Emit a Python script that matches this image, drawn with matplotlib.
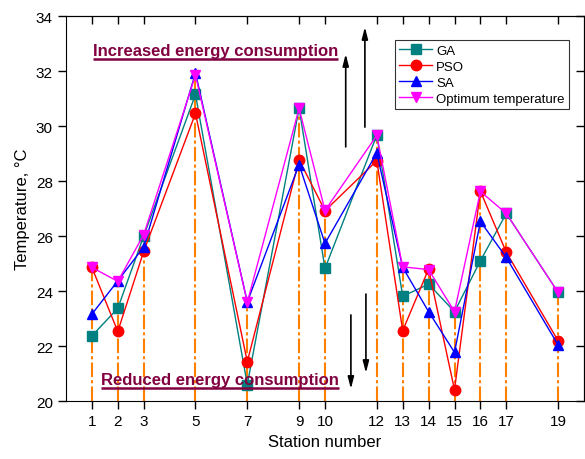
import numpy as np
import matplotlib.pyplot as plt

plt.rcParams['font.family'] = ['Liberation Sans', 'DejaVu Sans']

station = [1, 2, 3, 5, 7, 9, 10, 12, 13, 14, 15, 16, 17, 19]
ga  = [22.37, 23.37, 26.0, 31.15, 20.6, 30.65, 24.82, 29.67, 23.81, 24.25, 23.25, 25.1, 26.82, 23.95]
pso = [24.86, 22.53, 25.44, 30.46, 21.43, 28.77, 26.92, 28.74, 22.56, 24.8, 20.41, 27.63, 25.41, 22.19]
sa  = [23.16, 24.37, 25.6, 31.93, 23.6, 28.6, 25.73, 29.02, 24.86, 23.25, 21.77, 26.53, 25.22, 22.04]
opt = [24.86, 24.35, 26.05, 31.85, 23.59, 30.64, 26.93, 29.66, 24.88, 24.78, 23.25, 27.62, 26.82, 23.95]

# arrows: (x, y_from, y_to)
up_arrows = [(10.8, 29.24, 32.62), (11.54, 29.96, 33.6)]
down_arrows = [(11.0, 23.13, 20.44), (11.58, 23.89, 21.02)]

fig = plt.figure(figsize=(5.85, 4.6), dpi=100)
ax = fig.add_axes([0.1128, 0.126, 0.8855, 0.837])

# drop lines from the bottom to the optimum temperature
ax.vlines(station, 20, opt, colors='#FF8000', linestyles=(0, (7, 1.5, 1.5, 1.5)), lw=1.5, zorder=1)

ax.plot(station, ga, '-s', color='#008080', ms=6.5, lw=1, label='GA', zorder=2)
ax.plot(station, pso, '-o', color='#FF0000', ms=7.5, lw=1, label='PSO', zorder=3)
ax.plot(station, sa, '-^', color='#0000FF', ms=7.5, lw=1, label='SA', zorder=4)
ax.plot(station, opt, '-v', color='#FF00FF', ms=7.5, lw=1, label='Optimum temperature', zorder=5)

for x, y0, y1 in up_arrows + down_arrows:
    ax.annotate('', xy=(x, y1), xytext=(x, y0),
                arrowprops=dict(arrowstyle='-|>,head_length=0.7,head_width=0.18',
                                color='k', lw=1.2, shrinkA=0, shrinkB=0))

t1 = ax.text(5.77, 32.73, 'Increased energy consumption', color='#800040',
             fontsize=12, fontweight='bold', ha='center', va='center')
t2 = ax.text(5.96, 20.8, 'Reduced energy consumption', color='#800040',
             fontsize=12, fontweight='bold', ha='center', va='center')

ax.set_xlim(0, 20)
ax.set_ylim(20, 34)
ax.set_xticks(station)
ax.set_yticks(np.arange(20, 35, 2))
ax.tick_params(direction='out', length=6, width=1, labelsize=11)
ax.set_xlabel('Station number', fontsize=12)
ax.set_ylabel('Temperature, °C', fontsize=12)

top = ax.secondary_xaxis('top')
top.set_xticks(station)
top.tick_params(direction='in', length=6, width=1, labeltop=False)
right = ax.secondary_yaxis('right')
right.set_yticks(np.arange(20, 35, 2))
right.tick_params(direction='in', length=6, width=1, labelright=False)

leg = ax.legend(loc='upper left', bbox_to_anchor=(0.622, 0.955), fontsize=9.5,
                frameon=True, fancybox=False, edgecolor='k', handlelength=2.5,
                labelspacing=0.28, borderpad=0.35, handletextpad=0.3)
leg.get_frame().set_linewidth(0.8)

# underline the annotations
fig.canvas.draw()
r = fig.canvas.get_renderer()
inv = ax.transData.inverted()
for t in (t1, t2):
    bb = t.get_window_extent(r)
    (x0, y0), (x1, _) = inv.transform([(bb.x0, bb.y0 - 1), (bb.x1, bb.y0 - 1)])
    ax.plot([x0, x1], [y0, y0], color='#800040', lw=1.8, solid_capstyle='butt')

fig.savefig('out.png', dpi=100)
